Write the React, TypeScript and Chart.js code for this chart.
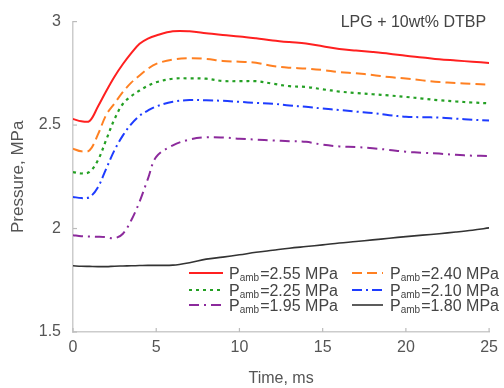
import React, { useEffect, useRef } from "react";
import { Chart, registerables } from "chart.js";
Chart.register(...registerables);

const time = [0, 0.5, 1, 1.5, 2, 2.5, 3, 3.5, 4, 4.5, 5, 6, 7, 8, 9, 10, 11, 12, 13, 14, 15, 16, 17, 18, 19, 20, 21, 22, 23, 24, 25];
const p255 = [2.53, 2.518, 2.52, 2.59, 2.665, 2.735, 2.795, 2.848, 2.893, 2.918, 2.933, 2.953, 2.953, 2.944, 2.935, 2.928, 2.919, 2.909, 2.901, 2.894, 2.881, 2.868, 2.86, 2.853, 2.845, 2.835, 2.827, 2.818, 2.812, 2.806, 2.8];
const p240 = [2.386, 2.373, 2.378, 2.455, 2.55, 2.605, 2.66, 2.705, 2.74, 2.772, 2.796, 2.817, 2.823, 2.82, 2.81, 2.806, 2.801, 2.785, 2.777, 2.773, 2.766, 2.756, 2.75, 2.742, 2.732, 2.725, 2.716, 2.708, 2.703, 2.699, 2.695];
const p225 = [2.273, 2.266, 2.274, 2.33, 2.43, 2.53, 2.603, 2.64, 2.667, 2.69, 2.707, 2.724, 2.726, 2.724, 2.713, 2.712, 2.712, 2.7, 2.688, 2.684, 2.673, 2.662, 2.655, 2.649, 2.643, 2.636, 2.628, 2.62, 2.614, 2.609, 2.605];
const p210 = [2.153, 2.147, 2.152, 2.2, 2.29, 2.38, 2.45, 2.505, 2.545, 2.57, 2.59, 2.613, 2.621, 2.62, 2.617, 2.612, 2.607, 2.603, 2.595, 2.588, 2.58, 2.573, 2.565, 2.558, 2.548, 2.54, 2.538, 2.536, 2.531, 2.526, 2.522];
const p195 = [1.968, 1.963, 1.961, 1.96, 1.958, 1.953, 1.975, 2.04, 2.13, 2.24, 2.346, 2.402, 2.43, 2.441, 2.44, 2.434, 2.43, 2.426, 2.422, 2.419, 2.405, 2.397, 2.394, 2.388, 2.38, 2.371, 2.366, 2.362, 2.356, 2.352, 2.351];
const p180 = [1.82, 1.818, 1.817, 1.816, 1.816, 1.818, 1.819, 1.82, 1.821, 1.822, 1.822, 1.823, 1.835, 1.852, 1.862, 1.873, 1.885, 1.895, 1.905, 1.913, 1.921, 1.93, 1.937, 1.945, 1.953, 1.961, 1.968, 1.975, 1.983, 1.992, 2.003];

const seriesLabels = ["2.55", "2.40", "2.25", "2.10", "1.95", "1.80"];
const seriesValues = [p255, p240, p225, p210, p195, p180];
const seriesColors = ["#ff2020", "#ff8022", "#24a024", "#1e3cff", "#8c2a9c", "#333333"];
const seriesDashes: number[][] = [[], [10, 5], [3, 4], [10, 4, 2, 4], [10, 5, 2, 5], []];
const seriesWidths = [2, 2, 2.2, 2, 2, 1.6];
const xTicks = [0, 5, 10, 15, 20, 25];
const yTicks = [1.5, 2, 2.5, 3];
const chartTitle = "LPG + 10wt% DTBP";
const xTitle = "Time, ms";
const yTitle = "Pressure, MPa";

const FONT = "'Liberation Sans', Arial, sans-serif";

const overlayPlugin = {
  id: "overlay",
  afterDraw(chart: any) {
    const { ctx, chartArea } = chart;
    const xs = chart.scales.x;
    const ys = chart.scales.y;
    ctx.save();
    ctx.strokeStyle = "#bbbbbb";
    ctx.lineWidth = 1.2;
    xTicks.forEach((t) => {
      const px = xs.getPixelForValue(t);
      ctx.beginPath();
      ctx.moveTo(px, chartArea.bottom);
      ctx.lineTo(px, chartArea.bottom - 4);
      ctx.stroke();
    });
    yTicks.forEach((t) => {
      const py = ys.getPixelForValue(t);
      ctx.beginPath();
      ctx.moveTo(chartArea.left, py);
      ctx.lineTo(chartArea.left + 4, py);
      ctx.stroke();
    });
    ctx.fillStyle = "#444444";
    ctx.font = `16px ${FONT}`;
    ctx.textAlign = "right";
    ctx.textBaseline = "middle";
    ctx.fillText(chartTitle, chartArea.right - 3, chartArea.top + 1);
    const cols = [
      { x0: chartArea.left + 116, x1: chartArea.left + 150, tx: chartArea.left + 156 },
      { x0: chartArea.left + 279, x1: chartArea.left + 310, tx: chartArea.left + 317 },
    ];
    const rows = [chartArea.bottom - 59, chartArea.bottom - 42, chartArea.bottom - 27];
    seriesLabels.forEach((lab, i) => {
      const c = cols[i % 2];
      const y = rows[Math.floor(i / 2)];
      ctx.strokeStyle = seriesColors[i];
      ctx.lineWidth = seriesWidths[i];
      ctx.setLineDash(seriesDashes[i]);
      ctx.beginPath();
      ctx.moveTo(c.x0, y);
      ctx.lineTo(c.x1, y);
      ctx.stroke();
      ctx.setLineDash([]);
      ctx.fillStyle = "#444444";
      ctx.textAlign = "left";
      ctx.textBaseline = "alphabetic";
      ctx.font = `16px ${FONT}`;
      const base = y + 6;
      ctx.fillText("P", c.tx, base);
      const pw = ctx.measureText("P").width;
      ctx.font = `10px ${FONT}`;
      ctx.fillText("amb", c.tx + pw, base + 2);
      const aw = ctx.measureText("amb").width;
      ctx.font = `16px ${FONT}`;
      ctx.fillText(`=${lab} MPa`, c.tx + pw + aw + 1, base);
    });
    ctx.restore();
  },
};

export default function App() {
  const ref = useRef<HTMLCanvasElement>(null);
  useEffect(() => {
    if (!ref.current) return;
    const chart = new Chart(ref.current, {
      type: "line",
      data: {
        datasets: seriesValues.map((vals, i) => ({
          label: seriesLabels[i],
          data: time.map((t, j) => ({ x: t, y: vals[j] })),
          borderColor: seriesColors[i],
          borderWidth: seriesWidths[i],
          borderDash: seriesDashes[i],
          pointRadius: 0,
          fill: false,
          tension: 0.35,
        })),
      },
      options: {
        animation: false,
        responsive: false,
        maintainAspectRatio: false,
        layout: { padding: { top: 21, right: 13, left: 0, bottom: 0 } },
        plugins: { legend: { display: false }, tooltip: { enabled: false }, title: { display: false } },
        scales: {
          x: {
            type: "linear",
            min: 0,
            max: 25,
            afterFit: (s: any) => { s.height = 56; },
            afterBuildTicks: (s: any) => { s.ticks = xTicks.map((v) => ({ value: v })); },
            ticks: { color: "#555555", font: { family: FONT, size: 16 }, padding: 6, callback: (v: any) => String(v) },
            grid: { display: false, drawTicks: false },
            border: { display: true, color: "#cccccc", width: 1.5 },
            title: { display: true, text: xTitle, color: "#555555", font: { family: FONT, size: 16 }, padding: { top: 0, bottom: 0 } },
          },
          y: {
            type: "linear",
            min: 1.5,
            max: 3,
            afterFit: (s: any) => { s.width = 73; },
            afterBuildTicks: (s: any) => { s.ticks = yTicks.map((v) => ({ value: v })); },
            ticks: { color: "#555555", font: { family: FONT, size: 16 }, padding: 12, callback: (v: any) => String(v) },
            grid: { display: false, drawTicks: false },
            border: { display: true, color: "#cccccc", width: 1.5 },
            title: { display: true, text: yTitle, color: "#555555", font: { family: FONT, size: 17 }, padding: { top: 8, bottom: 0 } },
          },
        },
      },
      plugins: [overlayPlugin],
    });
    return () => chart.destroy();
  }, []);
  return (
    <div style={{ position: "fixed", left: 0, top: 0, width: 504, height: 388, background: "#fff" }}>
      <canvas ref={ref} width={504} height={388} style={{ width: 504, height: 388 }} />
    </div>
  );
}
